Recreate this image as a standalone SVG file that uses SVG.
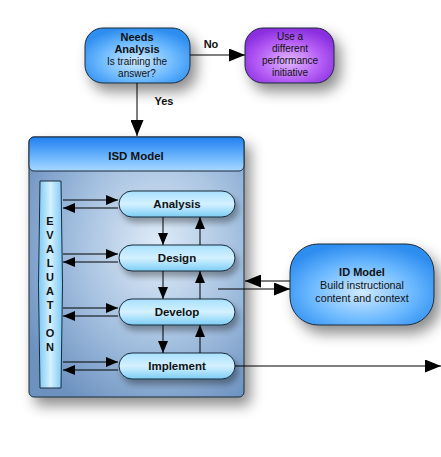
<svg xmlns="http://www.w3.org/2000/svg" width="441" height="457" viewBox="0 0 441 457">
<defs>
<filter id="sh" x="-30%" y="-30%" width="170%" height="170%">
<feDropShadow dx="6" dy="8" stdDeviation="7" flood-color="#000" flood-opacity="0.45"/>
</filter>
<filter id="sh2" x="-30%" y="-30%" width="170%" height="170%">
<feDropShadow dx="3" dy="5" stdDeviation="3" flood-color="#000" flood-opacity="0.35"/>
</filter>
<radialGradient id="gBlue" cx="50%" cy="60%" r="60%">
<stop offset="0" stop-color="#cfeaff"/>
<stop offset="0.6" stop-color="#6ab8ff"/>
<stop offset="1" stop-color="#2f8ef0"/>
</radialGradient>
<radialGradient id="gPurple" cx="50%" cy="60%" r="60%">
<stop offset="0" stop-color="#e2b8ff"/>
<stop offset="0.6" stop-color="#b45cf5"/>
<stop offset="1" stop-color="#8a2fe0"/>
</radialGradient>
<linearGradient id="gHead" x1="0" y1="0" x2="0" y2="1">
<stop offset="0" stop-color="#1f7ff0"/>
<stop offset="0.7" stop-color="#7cc0ff"/>
<stop offset="1" stop-color="#a8d8ff"/>
</linearGradient>
<radialGradient id="gBody" cx="60%" cy="42%" r="70%">
<stop offset="0" stop-color="#e0ecf8"/>
<stop offset="0.55" stop-color="#a3bfdf"/>
<stop offset="1" stop-color="#6d92c0"/>
</radialGradient>
<linearGradient id="gPhase" x1="0" y1="0" x2="0" y2="1">
<stop offset="0" stop-color="#a8e0ff"/>
<stop offset="0.5" stop-color="#d4f1ff"/>
<stop offset="1" stop-color="#7ccdf5"/>
</linearGradient>
<linearGradient id="gEval" x1="0" y1="0" x2="1" y2="0">
<stop offset="0" stop-color="#7cc8f5"/>
<stop offset="0.5" stop-color="#d4f1ff"/>
<stop offset="1" stop-color="#7cc8f5"/>
</linearGradient>
<marker id="ah" viewBox="0 0 12 10" refX="12" refY="5" markerWidth="12" markerHeight="10" markerUnits="userSpaceOnUse" orient="auto">
<path d="M0,0 L12,5 L0,10 z" fill="#000"/>
</marker>
<marker id="ahL" viewBox="0 0 16 13" refX="16" refY="6.5" markerWidth="16" markerHeight="13" markerUnits="userSpaceOnUse" orient="auto">
<path d="M0,0 L16,6.5 L0,13 z" fill="#000"/>
</marker>
</defs>
<style>
.b{font-family:"Liberation Sans",Arial,sans-serif;font-weight:bold;font-size:11px;fill:#111;text-anchor:middle}
.p{font-family:"Liberation Sans",Arial,sans-serif;font-weight:bold;font-size:11.5px;fill:#111;text-anchor:middle}
.t{font-family:"Liberation Sans",Arial,sans-serif;font-size:10px;fill:#111;text-anchor:middle}
.ph{fill:url(#gPhase);stroke:#1a2a3a;stroke-width:1}
.ln{stroke:#000;stroke-width:1;fill:none}
</style>
<rect width="441" height="457" fill="#fff"/>

<g id="needs-analysis">
<rect x="85" y="28" width="105" height="55" rx="18" fill="url(#gBlue)" stroke="#1a2a3a" filter="url(#sh)"/>
<text class="b" x="137" y="41">Needs</text>
<text class="b" x="137" y="53">Analysis</text>
<text class="t" x="137" y="65">Is training the</text>
<text class="t" x="137" y="77">answer?</text>
</g>

<g id="different-initiative">
<rect x="245" y="28" width="89" height="55" rx="18" fill="url(#gPurple)" stroke="#1a2a3a" filter="url(#sh)"/>
<text class="t" x="290" y="40">Use a</text>
<text class="t" x="290" y="52">different</text>
<text class="t" x="290" y="64">performance</text>
<text class="t" x="290" y="76">initiative</text>
</g>

<g id="isd-model">
<rect x="29" y="137" width="215" height="260" rx="5" fill="url(#gBody)" stroke="#1a2a3a" filter="url(#sh)"/>
<rect x="29" y="137" width="215" height="34" rx="5" fill="url(#gHead)" stroke="#1a2a3a"/>
<text class="p" x="136" y="160">ISD Model</text>
</g>

<g id="evaluation">
<path d="M40,181 L61,181 Q64,285 61,388 L40,388 Q37,285 40,181 z" fill="url(#gEval)" stroke="#1a2a3a"/>
<text class="b" x="50" y="225">E</text>
<text class="b" x="50" y="239">V</text>
<text class="b" x="50" y="253">A</text>
<text class="b" x="50" y="267">L</text>
<text class="b" x="50" y="281">U</text>
<text class="b" x="50" y="295">A</text>
<text class="b" x="50" y="309">T</text>
<text class="b" x="50" y="323">I</text>
<text class="b" x="50" y="337">O</text>
<text class="b" x="50" y="351">N</text>
</g>

<g id="analysis">
<rect class="ph" x="119" y="191" width="116" height="26" rx="13" filter="url(#sh2)"/>
<text class="p" x="177" y="208">Analysis</text>
</g>
<g id="design">
<rect class="ph" x="119" y="245" width="116" height="26" rx="13" filter="url(#sh2)"/>
<text class="p" x="177" y="262">Design</text>
</g>
<g id="develop">
<rect class="ph" x="119" y="299" width="116" height="26" rx="13" filter="url(#sh2)"/>
<text class="p" x="177" y="316">Develop</text>
</g>
<g id="implement">
<rect class="ph" x="119" y="353" width="116" height="26" rx="13" filter="url(#sh2)"/>
<text class="p" x="177" y="370">Implement</text>
</g>

<g id="id-model">
<rect x="290" y="244" width="144" height="81" rx="28" fill="url(#gBlue)" stroke="#1a2a3a" filter="url(#sh)"/>
<text class="b" x="362" y="276">ID Model</text>
<text class="t" x="362" y="289" style="font-size:10.7px">Build instructional</text>
<text class="t" x="362" y="302" style="font-size:10.7px">content and context</text>
</g>

<g id="connectors">
<line class="ln" x1="190" y1="55" x2="245" y2="55" marker-end="url(#ahL)"/>
<text class="b" x="211" y="48">No</text>
<line class="ln" x1="137" y1="83" x2="137" y2="136" marker-end="url(#ahL)"/>
<text class="b" x="164" y="105">Yes</text>

<line class="ln" x1="63" y1="200" x2="118" y2="200" marker-end="url(#ah)"/>
<line class="ln" x1="118" y1="208" x2="63" y2="208" marker-end="url(#ah)"/>
<line class="ln" x1="63" y1="254" x2="118" y2="254" marker-end="url(#ah)"/>
<line class="ln" x1="118" y1="262" x2="63" y2="262" marker-end="url(#ah)"/>
<line class="ln" x1="63" y1="308" x2="118" y2="308" marker-end="url(#ah)"/>
<line class="ln" x1="118" y1="316" x2="63" y2="316" marker-end="url(#ah)"/>
<line class="ln" x1="63" y1="362" x2="118" y2="362" marker-end="url(#ah)"/>
<line class="ln" x1="118" y1="370" x2="63" y2="370" marker-end="url(#ah)"/>

<line class="ln" x1="163" y1="217" x2="163" y2="245" marker-end="url(#ah)"/>
<line class="ln" x1="200" y1="245" x2="200" y2="217" marker-end="url(#ah)"/>
<line class="ln" x1="163" y1="271" x2="163" y2="299" marker-end="url(#ah)"/>
<line class="ln" x1="200" y1="299" x2="200" y2="271" marker-end="url(#ah)"/>
<line class="ln" x1="163" y1="325" x2="163" y2="353" marker-end="url(#ah)"/>
<line class="ln" x1="200" y1="353" x2="200" y2="325" marker-end="url(#ah)"/>

<line class="ln" x1="290" y1="281" x2="245" y2="281" marker-end="url(#ahL)"/>
<line class="ln" x1="218" y1="289" x2="290" y2="289" marker-end="url(#ahL)"/>
<line class="ln" x1="235" y1="366" x2="441" y2="366" marker-end="url(#ahL)"/>
</g>
</svg>
